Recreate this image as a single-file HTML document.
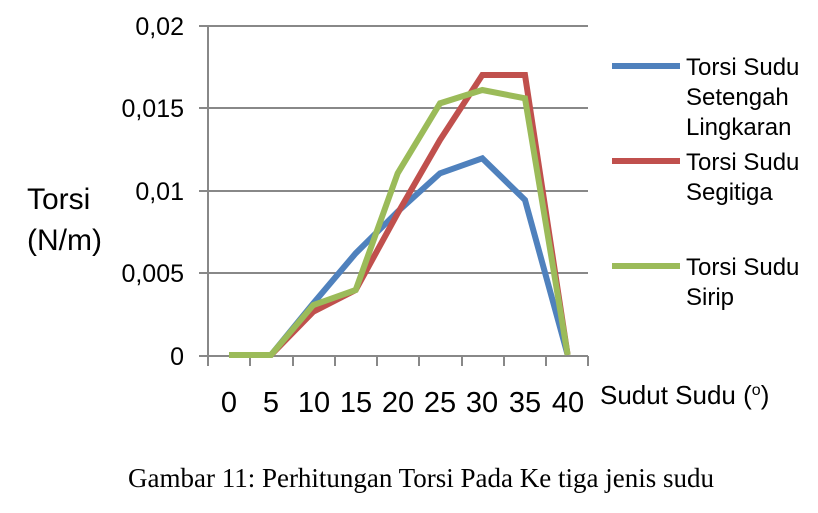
<!DOCTYPE html>
<html><head><style>
body{margin:0;width:818px;height:508px;background:#fff;overflow:hidden}
text{font-family:"Liberation Sans",sans-serif;fill:#000}
</style></head><body>
<svg width="818" height="508" xmlns="http://www.w3.org/2000/svg">
<g stroke="#888" stroke-width="2">
<line x1="199" y1="26" x2="588" y2="26"/>
<line x1="199" y1="108" x2="588" y2="108"/>
<line x1="199" y1="191" x2="588" y2="191"/>
<line x1="199" y1="273" x2="588" y2="273"/>
<line x1="199" y1="356" x2="588" y2="356"/>
<line x1="208" y1="26" x2="208" y2="366"/>
<line x1="250" y1="356" x2="250" y2="366"/><line x1="293" y1="356" x2="293" y2="366"/>
<line x1="335" y1="356" x2="335" y2="366"/><line x1="377" y1="356" x2="377" y2="366"/>
<line x1="419" y1="356" x2="419" y2="366"/><line x1="462" y1="356" x2="462" y2="366"/>
<line x1="504" y1="356" x2="504" y2="366"/><line x1="546" y1="356" x2="546" y2="366"/>
<line x1="588" y1="356" x2="588" y2="366"/>
</g>
<g transform="translate(190,10) scale(0.33333)" fill="none" stroke-width="18" stroke-linejoin="miter">
<polyline stroke="#4f81bd" points="117,1035 243,1035 370,880 497,730 623,605 750,490 877,445 1005,570 1133,1035"/>
<polyline stroke="#c0504d" points="117,1035 243,1035 370,905 497,840 623,610 750,390 877,195 1005,195 1133,1035"/>
<polyline stroke="#9bbb59" points="117,1035 243,1035 370,885 497,840 623,490 750,280 877,240 1005,265 1133,1035"/>
</g>
<g font-size="25" text-anchor="end">
<text x="184" y="35">0,02</text>
<text x="184" y="117">0,015</text>
<text x="184" y="200">0,01</text>
<text x="184" y="282">0,005</text>
<text x="184" y="365">0</text>
</g>
<text x="27" y="209" font-size="30">Torsi</text>
<text x="27" y="250" font-size="30">(N/m)</text>
<g font-size="29" text-anchor="middle">
<text x="229" y="412">0</text><text x="271" y="412">5</text><text x="314" y="412">10</text>
<text x="356" y="412">15</text><text x="398" y="412">20</text><text x="440" y="412">25</text>
<text x="482" y="412">30</text><text x="525" y="412">35</text><text x="568" y="412">40</text>
</g>
<text x="600" y="404" font-size="26">Sudut Sudu (<tspan font-size="16" dy="-9">o</tspan><tspan dy="9">)</tspan></text>
<g stroke-width="6">
<line x1="612" y1="66" x2="680" y2="66" stroke="#4f81bd"/>
<line x1="612" y1="161" x2="680" y2="161" stroke="#c0504d"/>
<line x1="612" y1="266" x2="680" y2="266" stroke="#9bbb59"/>
</g>
<g font-size="24">
<text x="686" y="75">Torsi Sudu</text><text x="686" y="105">Setengah</text><text x="686" y="135">Lingkaran</text>
<text x="686" y="170">Torsi Sudu</text><text x="686" y="200">Segitiga</text>
<text x="686" y="275">Torsi Sudu</text><text x="686" y="305">Sirip</text>
</g>
<text x="421" y="487" font-size="27" text-anchor="middle" style="font-family:'Liberation Serif',serif">Gambar 11: Perhitungan Torsi Pada Ke tiga jenis sudu</text>
</svg>
</body></html>
